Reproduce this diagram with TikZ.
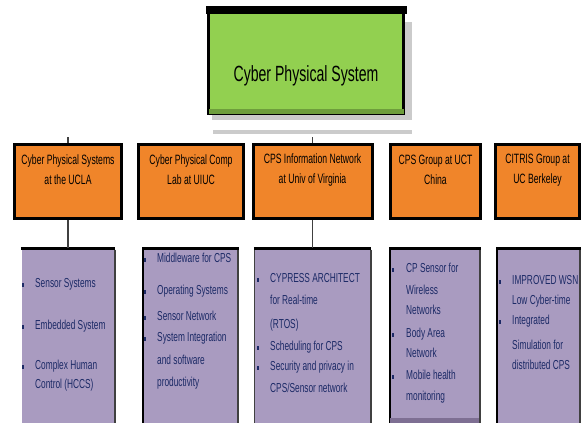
\documentclass[tikz,border=0pt]{standalone}
\usepackage{fontspec}
\setmainfont{Liberation Sans}
\newfontfamily\cond[FakeStretch=0.64]{Liberation Sans}
\definecolor{cpsgreen}{HTML}{92D050}
\definecolor{cpsgreendk}{HTML}{6E9E3C}
\definecolor{cpsorange}{HTML}{F0852A}
\definecolor{cpspurple}{HTML}{A99BC0}
\definecolor{cpspurpledk}{HTML}{7E6F93}
\definecolor{cpsnavy}{HTML}{1C2A66}
\definecolor{shadowgray}{HTML}{CBCBCB}
\definecolor{conngray}{HTML}{404040}
\tikzset{
  hdrbox/.style={fill=cpsorange, draw=black, line width=3pt, inner sep=0pt},
  hdrtext/.style={font=\cond\fontsize{13.5}{20}\selectfont, align=center, text=black, inner sep=0pt},
  listbox/.style={fill=cpspurple, draw=none, inner sep=0pt, anchor=north},
  listline/.style={font=\cond\fontsize{13}{14}\selectfont, text=cpsnavy, anchor=mid west, inner sep=0pt},
  bulletmark/.style={fill=cpsnavy, draw=none, inner sep=0pt, minimum width=2.5pt, minimum height=3.5pt},
  conn/.style={draw=conngray, line width=1.6pt},
}
\begin{document}
\begin{tikzpicture}[x=1pt,y=-1pt]
\useasboundingbox (0,0) rectangle (581,423);
% title box with shadow
\fill[shadowgray] (212,22) rectangle (412,120);
\node[fill=cpsgreen, draw=black, line width=3pt, minimum width=195pt, minimum height=105pt, inner sep=0pt] (top) at (306,61) {};
\fill[black] ([shift={(-1.5,-1.5)}]top.north west) rectangle ([shift={(1.5,6.5)}]top.north east);
\fill[cpsgreendk] ([shift={(1.5,-6)}]top.south west) rectangle ([shift={(-1.5,-1.5)}]top.south east);
\node[font=\cond\fontsize{22}{24}\selectfont, anchor=mid, inner sep=0pt] (toptext) at (306,79) {Cyber Physical System};
% gray bar
\node[fill=shadowgray, draw=none, inner sep=0pt, minimum width=199pt, minimum height=4pt] (gbar) at (312.5,132) {};
% header boxes
\node[hdrbox, minimum width=107pt, minimum height=74pt] (o1) at (68,181.5) {};
\node[hdrbox, minimum width=105pt, minimum height=74pt] (o2) at (191,181.5) {};
\node[hdrbox, minimum width=119pt, minimum height=74pt] (o3) at (312.5,181.5) {};
\node[hdrbox, minimum width=90pt, minimum height=74pt] (o4) at (435.5,181.5) {};
\node[hdrbox, minimum width=84pt, minimum height=74pt] (o5) at (537.5,181.5) {};
\node[hdrtext] (t1) at (68,170) {Cyber Physical Systems\\at the UCLA};
\node[hdrtext] (t2) at (191,170) {Cyber Physical Comp\\Lab at UIUC};
\node[hdrtext] (t3) at (312.5,170) {CPS Information Network\\at Univ of Virginia};
\node[hdrtext] (t4) at (435.5,170) {CPS Group at UCT\\China};
\node[hdrtext] (t5) at (537.5,170) {CITRIS Group at\\UC Berkeley};
% list boxes
\node[listbox, minimum width=93pt, minimum height=185pt] (p1) at (68,248) {};
\node[listbox, minimum width=95pt, minimum height=185pt] (p2) at (190.5,248) {};
\node[listbox, minimum width=116pt, minimum height=185pt] (p3) at (312.5,248) {};
\node[listbox, minimum width=90pt, minimum height=185pt] (p4) at (435,248) {};
\node[listbox, minimum width=83pt, minimum height=185pt] (p5) at (538.5,248) {};
\foreach \b in {p1,p2,p3,p4,p5}{
  \draw[black, line width=3pt] ([xshift=-0.5pt]\b.north west) -- ([xshift=0.5pt]\b.north east);
  \draw[conngray, line width=2pt] ([yshift=-1.5pt]\b.north east) -- (\b.south east);
}
\draw[conngray, line width=1pt] ([yshift=-1.5pt]p3.north west) -- (p3.south west);
\draw[black, line width=2pt] ([yshift=-1.5pt]p5.north west) -- (p5.south west);
\draw[black, line width=2pt] ([yshift=-1.5pt]p4.north west) -- (p4.south west);
\draw[black, line width=2pt] ([yshift=-1.5pt]p2.north west) -- (p2.south west);
\fill[cpspurpledk] ([yshift=-170pt]p4.north west) rectangle ([xshift=-1pt]p4.south east);
% connectors
\coordinate (s1) at (68,137);
\coordinate (s3) at (312.5,137);
\draw[conn] (s1) -- (o1.north);
\draw[conn] (s3) -- (o3.north);
\draw[conn] (o1.south) -- (p1.north);
\draw[conn] (o3.south) -- (p3.north);
% list 1
\node[bulletmark] (b11) at (23,285) {};
\node[listline] (l11) at (35,285) {Sensor Systems};
\node[bulletmark] (b12) at (23,327) {};
\node[listline] (l12) at (35,327) {Embedded System};
\node[bulletmark] (b13) at (23,367) {};
\node[listline] (l13) at (35,367) {Complex Human};
\node[listline] (l14) at (35,386) {Control (HCCS)};
% list 2
\node[bulletmark] (b21) at (145,260) {};
\node[listline] (l21) at (157,260) {Middleware for CPS};
\node[bulletmark] (b22) at (145,292) {};
\node[listline] (l22) at (157,292) {Operating Systems};
\node[bulletmark] (b23) at (145,318) {};
\node[listline] (l23) at (157,318) {Sensor Network};
\node[bulletmark] (b24) at (145,339) {};
\node[listline] (l24) at (157,339) {System Integration};
\node[listline] (l25) at (157,362) {and software};
\node[listline] (l26) at (157,384) {productivity};
% list 3
\node[bulletmark] (b31) at (258,280) {};
\node[listline] (l31) at (270,280) {CYPRESS ARCHITECT};
\node[listline] (l32) at (270,302) {for Real-time};
\node[listline] (l33) at (270,326) {(RTOS)};
\node[bulletmark] (b34) at (258,348) {};
\node[listline] (l34) at (270,348) {Scheduling for CPS};
\node[bulletmark] (b35) at (258,368) {};
\node[listline] (l35) at (270,368) {Security and privacy in};
\node[listline] (l36) at (270,390) {CPS/Sensor network};
% list 4
\node[bulletmark] (b41) at (393,270) {};
\node[listline] (l41) at (406,270) {CP Sensor for};
\node[listline] (l42) at (406,292) {Wireless};
\node[listline] (l43) at (406,312) {Networks};
\node[bulletmark] (b44) at (393,335) {};
\node[listline] (l44) at (406,335) {Body Area};
\node[listline] (l45) at (406,355) {Network};
\node[bulletmark] (b46) at (393,377) {};
\node[listline] (l46) at (406,377) {Mobile health};
\node[listline] (l47) at (406,398) {monitoring};
% list 5
\node[bulletmark] (b51) at (500,282) {};
\node[listline] (l51) at (512,282) {IMPROVED WSN};
\node[listline] (l52) at (512,302) {Low Cyber-time};
\node[bulletmark] (b53) at (500,322) {};
\node[listline] (l53) at (512,322) {Integrated};
\node[listline] (l54) at (512,347) {Simulation for};
\node[listline] (l55) at (512,367) {distributed CPS};
\end{tikzpicture}
\end{document}
